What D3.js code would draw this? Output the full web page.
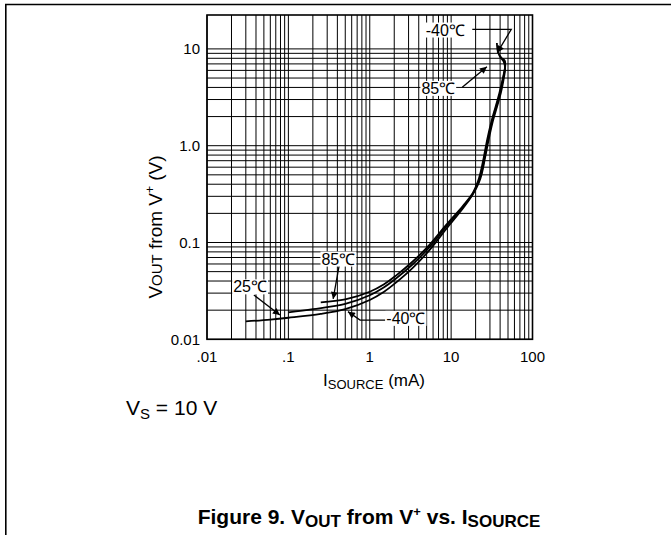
<!DOCTYPE html>
<html><head><meta charset="utf-8">
<script src="https://cdn.jsdelivr.net/npm/d3@7"></script>
<style>body{margin:0;background:#fff}svg{display:block}text{font-family:"Liberation Sans",Arial,Helvetica,sans-serif;fill:#000}</style>
</head><body><svg id="c" width="671" height="535"></svg>
<script>
// ---- data ----
const xTicks = [0.01, 0.1, 1, 10, 100];
const xTickLabels = [".01", ".1", "1", "10", "100"];
const yTicks = [0.01, 0.1, 1, 10];
const yTickLabels = ["0.01", "0.1", "1.0", "10"];
const seriesNames = ["-40℃", "25℃", "85℃"];
// [I_SOURCE mA, V_OUT from V+ V]
const curveM40 = [[0.03,0.0153],[0.06,0.016],[0.1,0.0167],[0.25,0.0183],[0.5,0.0205],[1,0.0255],[1.5,0.031],[2.1,0.0385],[3.4,0.055],[5.45,0.084],[8.7,0.138],[14,0.226],[18.5,0.315],[21.8,0.41],[23.9,0.52],[26.3,0.77],[28.9,1.15],[32.6,1.8],[36.6,2.53],[40.8,3.5],[44,4.77],[46,6.3],[44.3,7.4],[40,8.3],[37.5,9.4],[36.5,11.5]];
const curve25 = [[0.1,0.019],[0.2,0.0205],[0.5,0.0232],[1,0.0285],[1.5,0.0345],[2.1,0.0425],[3.4,0.06],[5.45,0.09],[8.7,0.146],[14,0.234],[18.5,0.32],[21.5,0.415],[23.5,0.52],[25.8,0.77],[28.3,1.15],[32,1.8],[35.9,2.53],[40,3.5],[43.5,4.9],[46,6.5],[45,7.5],[41.5,8.1],[39,8.6]];
const curve85 = [[0.25,0.0241],[0.5,0.0258],[1,0.031],[1.5,0.037],[2.1,0.0455],[3.4,0.064],[5.45,0.095],[8.7,0.152],[14,0.24],[18.5,0.325],[21.2,0.42],[23,0.53],[25.3,0.77],[27.7,1.15],[31.4,1.8],[35.2,2.53],[39.2,3.5],[43.3,5.0],[46.3,6.8],[45.5,7.6],[42.5,7.9]];
// annotations: label, text left/centre point, leader path (data coords)
const notes = [
  {t:"-40℃", at:[1.60,0.0165], path:[[1.55,0.0158],[0.76,0.0158],[0.54,0.0193]]},
  {t:"25℃",  at:[0.021,0.0349], path:[[0.0377,0.0287],[0.0787,0.0178]]},
  {t:"85℃",  at:[0.255,0.0676], path:[[0.42,0.0572],[0.355,0.0261]]},
  {t:"85℃",  at:[4.31,3.92],   path:[[13.7,4.01],[27.5,6.55]]},
  {t:"-40℃", at:[4.87,15.7],   path:[[18.2,15.9],[54.8,15.9],[36.9,9.14]]}
];

// ---- layout ----
const svg = d3.select("#c");
const x = d3.scaleLog().domain([0.01, 100]).range([207, 532.5]);
const y = d3.scaleLog().domain([0.01, 22.4]).range([339.3, 15]);

// page frame
svg.append("line").attr("x1",5).attr("x2",671).attr("y1",4.5).attr("y2",4.5).attr("stroke","#000").attr("stroke-width",1.6);
svg.append("line").attr("x1",5.8).attr("x2",5.8).attr("y1",4).attr("y2",535).attr("stroke","#000").attr("stroke-width",1.6);

// grid
const vGrid = [];
xTicks.slice(0,-1).forEach(d => { for (let k=1;k<=9;k++) vGrid.push(d*k); });
vGrid.push(100);
const hGrid = [];
yTicks.slice(0,-1).forEach(d => { for (let k=1;k<=9;k++) hGrid.push(d*k); });
hGrid.push(10);
const g = svg.append("g");
g.selectAll(".vg").data(vGrid).join("line").attr("x1",d=>x(d)).attr("x2",d=>x(d))
  .attr("y1",y.range()[1]).attr("y2",y.range()[0]).attr("stroke","#000").attr("stroke-width",1);
g.selectAll(".hg").data(hGrid).join("line").attr("y1",d=>y(d)).attr("y2",d=>y(d))
  .attr("x1",x.range()[0]).attr("x2",x.range()[1]).attr("stroke","#000").attr("stroke-width",1);
g.append("rect").attr("x",x.range()[0]).attr("y",y.range()[1]).attr("width",x.range()[1]-x.range()[0])
  .attr("height",y.range()[0]-y.range()[1]).attr("fill","none").attr("stroke","#000").attr("stroke-width",1.6);

// tick labels
svg.selectAll(".xt").data(xTicks).join("text").attr("x",d=>x(d)).attr("y",362).attr("text-anchor","middle")
  .attr("font-size",15).text((d,i)=>xTickLabels[i]);
svg.selectAll(".yt").data(yTicks).join("text").attr("x",200).attr("y",d=>y(d)+5.4).attr("text-anchor","end")
  .attr("font-size",15).text((d,i)=>yTickLabels[i]);

// curves
const line = d3.line().x(d=>x(d[0])).y(d=>y(d[1])).curve(d3.curveCatmullRom.alpha(0.5));
const cg = svg.append("g");
[curveM40, curve25, curve85].forEach(c => {
  cg.append("path").attr("d", line(c)).attr("fill","none").attr("stroke","#000").attr("stroke-width",1.8).attr("stroke-linejoin","round");
});

// annotations
const defs = svg.append("defs");
defs.append("marker").attr("id","ah").attr("viewBox","0 0 10 10").attr("refX",10).attr("refY",5)
  .attr("markerWidth",10).attr("markerHeight",7).attr("markerUnits","userSpaceOnUse").attr("orient","auto")
  .append("path").attr("d","M0,0 L10,5 L0,10 z").attr("fill","#000");
const ag = svg.append("g");
notes.forEach(n => {
  ag.append("path").attr("d", d3.line().x(d=>x(d[0])).y(d=>y(d[1]))(n.path))
    .attr("fill","none").attr("stroke","#000").attr("stroke-width",1.3).attr("marker-end","url(#ah)");
});
notes.forEach(n => {
  const t = ag.append("text").attr("x",x(n.at[0])).attr("y",y(n.at[1])).attr("font-size",16).attr("dy","0.35em").text(n.t);
  const b = t.node().getBBox();
  ag.insert("rect","text").attr("x",b.x-1).attr("y",b.y+1).attr("width",b.width+2).attr("height",b.height-2).attr("fill","#fff");
});
ag.selectAll("text").raise();

// axis titles
const xt = svg.append("text").attr("x",374).attr("y",386).attr("text-anchor","middle").attr("font-size",17);
xt.append("tspan").text("I");
xt.append("tspan").attr("font-size",13).attr("dy",3).text("SOURCE");
xt.append("tspan").attr("dy",-3).text(" (mA)");

const yt = svg.append("text").attr("transform","translate(162,227) rotate(-90)").attr("text-anchor","middle").attr("font-size",19);
yt.append("tspan").text("V");
yt.append("tspan").attr("font-size",15).text("OUT");
yt.append("tspan").text(" from V");
yt.append("tspan").attr("font-size",12).attr("dy",-8).text("+");
yt.append("tspan").attr("dy",8).text(" (V)");

// supply note
const vs = svg.append("text").attr("x",126).attr("y",415).attr("font-size",21);
vs.append("tspan").text("V");
vs.append("tspan").attr("font-size",15).attr("dy",4).text("S");
vs.append("tspan").attr("dy",-4).text(" = 10 V");

// caption
const cap = svg.append("text").attr("x",369).attr("y",524).attr("text-anchor","middle").attr("font-size",21).attr("font-weight","bold");
cap.append("tspan").text("Figure 9. V");
cap.append("tspan").attr("font-size",17).attr("dy",3).text("OUT");
cap.append("tspan").attr("dy",-3).text(" from V");
cap.append("tspan").attr("font-size",13).attr("dy",-8).text("+");
cap.append("tspan").attr("dy",8).text(" vs. I");
cap.append("tspan").attr("font-size",17).attr("dy",3).text("SOURCE");
</script></body></html>
